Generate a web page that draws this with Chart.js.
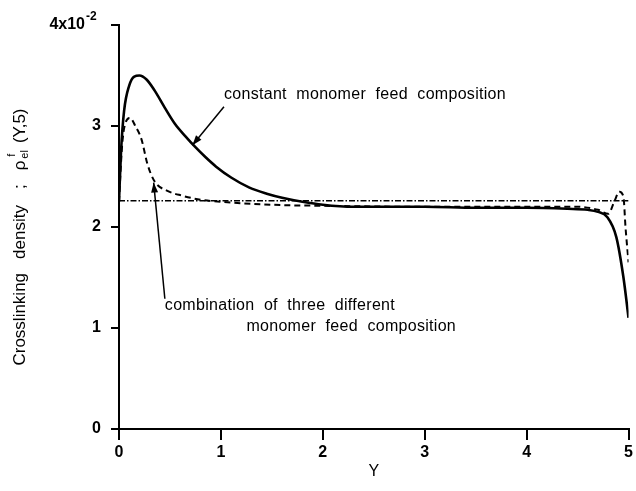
<!DOCTYPE html>
<html>
<head>
<meta charset="utf-8">
<script src="https://cdn.jsdelivr.net/npm/chart.js@4"></script>
<style>
  html, body { margin: 0; padding: 0; background: #fff; }
  #wrap { width: 636px; height: 491px; }
</style>
</head>
<body>
<div id="wrap"><canvas id="chart"></canvas></div>
<script>
// values in units of 10^-2
const constantX = [0, 0.02, 0.05, 0.1, 0.15, 0.2, 0.27, 0.35, 0.45, 0.55, 0.65, 0.75, 0.85, 0.95, 1.1, 1.28, 1.45, 1.6, 1.8, 2.0, 2.3, 2.6, 3.0, 3.5, 4.0, 4.4, 4.6, 4.7, 4.79, 4.88, 4.95, 5.0];
const constantY = [2.25, 2.75, 3.15, 3.4, 3.49, 3.5, 3.46, 3.35, 3.18, 3.02, 2.9, 2.79, 2.69, 2.6, 2.49, 2.39, 2.33, 2.29, 2.25, 2.22, 2.2, 2.2, 2.2, 2.19, 2.19, 2.18, 2.17, 2.15, 2.1, 1.9, 1.5, 1.1];

const comboX = [0, 0.03, 0.06, 0.11, 0.16, 0.22, 0.28, 0.35, 0.47, 0.62, 0.8, 1.0, 1.5, 2.0, 3.0, 4.0, 4.5, 4.7, 4.8, 4.86, 4.91, 4.95, 4.97, 5.0];
const comboY = [2.25, 2.8, 3.02, 3.08, 3.0, 2.87, 2.62, 2.45, 2.36, 2.31, 2.27, 2.25, 2.22, 2.21, 2.2, 2.2, 2.2, 2.17, 2.13, 2.25, 2.35, 2.3, 2.0, 1.65];

const refX = [0, 5];
const refY = [2.26, 2.26];

const xTicks = [0, 1, 2, 3, 4, 5];
const yTicks = [0, 1, 2, 3, 4];

const toPoints = (xs, ys) => xs.map((x, i) => ({ x: x, y: ys[i] }));

// annotation text and arrows, placed in data units
const noteLabels = [
  { text: 'constant  monomer  feed  composition', x: 1.03, y: 3.31 },
  { text: 'combination  of  three  different', x: 0.45, y: 1.22 },
  { text: 'monomer  feed  composition', x: 1.25, y: 1.01 },
];
const noteArrows = [
  { from: [1.03, 3.19], to: [0.72, 2.81] },
  { from: [0.45, 1.29], to: [0.34, 2.44] },
];

const FONT = '"Liberation Sans", Arial, Helvetica, sans-serif';

function drawArrow(ctx, x1, y1, x2, y2) {
  ctx.beginPath();
  ctx.moveTo(x1, y1);
  ctx.lineTo(x2, y2);
  ctx.lineWidth = 1.5;
  ctx.stroke();
  const a = Math.atan2(y2 - y1, x2 - x1);
  const len = 10, w = 3.5;
  ctx.beginPath();
  ctx.moveTo(x2, y2);
  ctx.lineTo(x2 - len * Math.cos(a) + w * Math.sin(a), y2 - len * Math.sin(a) - w * Math.cos(a));
  ctx.lineTo(x2 - len * Math.cos(a) - w * Math.sin(a), y2 - len * Math.sin(a) + w * Math.cos(a));
  ctx.closePath();
  ctx.fill();
}

const notesPlugin = {
  id: 'notes',
  afterDraw(chart) {
    const ctx = chart.ctx;
    const xs = chart.scales.x, ys = chart.scales.y;
    ctx.save();
    ctx.fillStyle = '#000';
    ctx.strokeStyle = '#000';

    // exponent of the top y tick
    ctx.font = 'bold 12px ' + FONT;
    ctx.textAlign = 'left';
    ctx.textBaseline = 'middle';
    ctx.fillText('-2', 86, ys.getPixelForValue(4) - 8);

    ctx.font = '16px ' + FONT;
    if ('letterSpacing' in ctx) ctx.letterSpacing = '0.3px';
    noteLabels.forEach(n => {
      ctx.fillText(n.text, xs.getPixelForValue(n.x), ys.getPixelForValue(n.y));
    });
    if ('letterSpacing' in ctx) ctx.letterSpacing = '0px';
    noteArrows.forEach(a => {
      drawArrow(ctx,
        xs.getPixelForValue(a.from[0]), ys.getPixelForValue(a.from[1]),
        xs.getPixelForValue(a.to[0]), ys.getPixelForValue(a.to[1]));
    });

    // y axis title with super/subscript
    ctx.translate(20, 237);
    ctx.rotate(-Math.PI / 2);
    const main = '17px ' + FONT, small = '11px ' + FONT;
    const pieces = [['Crosslinking', 14], ['density', 16], [';', 14], ['\u03C1', 1]];
    ctx.font = main;
    let total = 0;
    pieces.forEach(p => { total += ctx.measureText(p[0]).width + p[1]; });
    ctx.font = small;
    const wSub = ctx.measureText('el').width + 8;
    ctx.font = main;
    const wEnd = ctx.measureText('(Y,5)').width;
    total += wSub + wEnd;
    let x = -total / 2;
    pieces.forEach(p => {
      ctx.fillText(p[0], x, 0);
      x += ctx.measureText(p[0]).width + p[1];
    });
    ctx.font = small;
    ctx.fillText('f', x + 3, -8);
    ctx.fillText('el', x + 1, 5);
    x += wSub;
    ctx.font = main;
    ctx.fillText('(Y,5)', x, 0);
    ctx.restore();
  }
};

new Chart(document.getElementById('chart'), {
  type: 'line',
  data: {
    datasets: [
      {
        label: 'constant monomer feed composition',
        data: toPoints(constantX, constantY),
        borderColor: '#000',
        borderWidth: 2.6,
        pointRadius: 0,
        cubicInterpolationMode: 'monotone',
      },
      {
        label: 'combination of three different monomer feed composition',
        data: toPoints(comboX, comboY),
        borderColor: '#000',
        borderWidth: 2,
        borderDash: [6, 4],
        pointRadius: 0,
        cubicInterpolationMode: 'monotone',
      },
      {
        label: 'reference',
        data: toPoints(refX, refY),
        borderColor: '#000',
        borderWidth: 1.3,
        borderDash: [6, 2, 1.5, 2],
        pointRadius: 0,
      },
    ]
  },
  options: {
    responsive: true,
    maintainAspectRatio: false,
    animation: false,
    layout: { padding: { top: 25, right: 4, left: 0, bottom: 0 } },
    plugins: {
      legend: { display: false },
      tooltip: { enabled: false },
    },
    scales: {
      x: {
        type: 'linear',
        min: 0,
        max: 5,
        afterFit: (scale) => { scale.height = 62; },
        afterBuildTicks: (scale) => { scale.ticks = xTicks.map(v => ({ value: v })); },
        border: { display: true, color: '#000', width: 2 },
        grid: { display: true, drawOnChartArea: false, drawTicks: true, tickLength: 11, color: '#000', lineWidth: 2 },
        ticks: { color: '#000', padding: 3, font: { family: FONT, size: 16, weight: 'bold' } },
        title: { display: true, text: 'Y', color: '#000', padding: { top: 0, bottom: 10 }, font: { family: FONT, size: 16 } },
      },
      y: {
        type: 'linear',
        min: 0,
        max: 4,
        afterFit: (scale) => { scale.width = 119; },
        afterBuildTicks: (scale) => { scale.ticks = yTicks.map(v => ({ value: v })); },
        border: { display: true, color: '#000', width: 2 },
        grid: { display: true, drawOnChartArea: false, drawTicks: true, tickLength: 8, color: '#000', lineWidth: 2 },
        ticks: {
          color: '#000',
          padding: 10,
          font: { family: FONT, size: 16, weight: 'bold' },
          callback: (v) => v === 4 ? '4x10\u2003' : String(v),
        },
      },
    }
  },
  plugins: [notesPlugin]
});
</script>
</body>
</html>
